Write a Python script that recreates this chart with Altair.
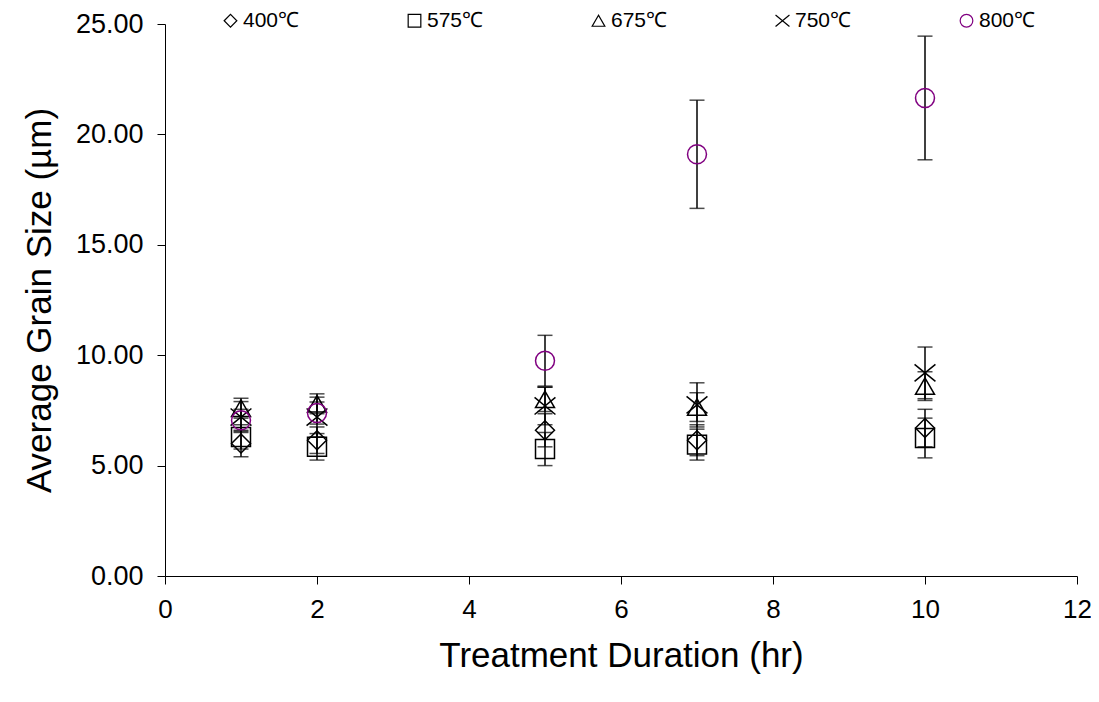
import altair as alt
import pandas as pd

durations = [1, 2, 5, 7, 10]
series = ["400℃", "575℃", "675℃", "750℃", "800℃"]
g400 = [6.0, 6.15, 6.6, 6.15, 6.7]
e400 = [0.6, 0.6, 0.75, 0.7, 0.85]
g575 = [6.3, 5.85, 5.75, 5.95, 6.25]
e575 = [0.55, 0.6, 0.75, 0.7, 0.9]
g675 = [7.6, 7.8, 8.0, 7.65, 8.6]
e675 = [0.45, 0.45, 0.55, 0.65, 0.65]
g750 = [7.2, 7.2, 7.7, 7.75, 9.2]
e750 = [0.7, 0.9, 0.85, 1.0, 1.17]
g800 = [7.05, 7.38, 9.75, 19.1, 21.65]
e800 = [0.5, 0.5, 1.15, 2.45, 2.8]

means = [g400, g575, g675, g750, g800]
errs = [e400, e575, e675, e750, e800]

rows = []
for s, m, e in zip(series, means, errs):
    for d, v, er in zip(durations, m, e):
        rows.append({"series": s, "duration": d, "size": v, "lo": v - er, "hi": v + er})
df = pd.DataFrame(rows)

FONT = "Liberation Sans"
x_scale = alt.Scale(domain=[0, 12], nice=False, zero=True)
y_scale = alt.Scale(domain=[0, 25], nice=False)

shape_scale = alt.Scale(
    domain=series,
    range=["diamond", "square", "triangle-up", "M-1.1,-0.9L1.1,0.9M1.1,-0.9L-1.1,0.9", "circle"],
)
stroke_scale = alt.Scale(domain=series, range=["black", "black", "black", "black", "#800080"])

base = alt.Chart(df)

bars = base.mark_rule(color="black", strokeWidth=1.5).encode(
    x=alt.X("duration:Q", scale=x_scale),
    y=alt.Y("lo:Q", scale=y_scale),
    y2="hi:Q",
)
cap_lo = base.mark_tick(color="black", orient="horizontal", size=15, thickness=1.5).encode(
    x=alt.X("duration:Q", scale=x_scale),
    y=alt.Y("lo:Q", scale=y_scale),
)
cap_hi = base.mark_tick(color="black", orient="horizontal", size=15, thickness=1.5).encode(
    x=alt.X("duration:Q", scale=x_scale),
    y=alt.Y("hi:Q", scale=y_scale),
)

points = base.mark_point(filled=False, strokeWidth=1.5, size=360, opacity=1).encode(
    x=alt.X(
        "duration:Q",
        scale=x_scale,
        axis=alt.Axis(
            title="Treatment Duration (hr)",
            values=[0, 2, 4, 6, 8, 10, 12],
            format="d",
            grid=False,
            tickSize=8,
            labelPadding=12,
            labelFlush=False,
            labelFontSize=26,
            titlePadding=16,
        ),
    ),
    y=alt.Y(
        "size:Q",
        scale=y_scale,
        axis=alt.Axis(
            title="Average Grain Size (µm)",
            values=[0, 5, 10, 15, 20, 25],
            format=".2f",
            grid=False,
            tickSize=8,
            labelPadding=14,
            labelFlush=False,
            titlePadding=18,
        ),
    ),
    shape=alt.Shape(
        "series:N",
        scale=shape_scale,
        legend=alt.Legend(
            title=None,
            orient="none",
            legendX=55,
            legendY=-14,
            direction="horizontal",
            columnPadding=104,
            symbolSize=160,
            symbolStrokeWidth=1.2,
            labelFont=FONT,
            labelFontSize=21,
            labelOffset=2,
            symbolOffset=0,
        ),
    ),
    stroke=alt.Stroke("series:N", scale=stroke_scale, legend=None),
)

chart = (
    alt.layer(bars, cap_lo, cap_hi, points)
    .properties(
        width=912,
        height=552,
        autosize=alt.AutoSizeParams(type="none"),
        padding={"left": 157, "top": 16, "right": 14, "bottom": 118},
    )
    .configure_view(stroke=None)
    .configure_axis(
        domainColor="black",
        tickColor="black",
        labelColor="black",
        titleColor="black",
        labelFont=FONT,
        titleFont=FONT,
        labelFontSize=27,
        titleFontSize=35,
        titleFontWeight="normal",
        domainWidth=1,
        tickWidth=1,
    )
    .configure_legend(labelColor="black")
)

chart.save("out.html", embed_options={"renderer": "svg", "actions": False})
